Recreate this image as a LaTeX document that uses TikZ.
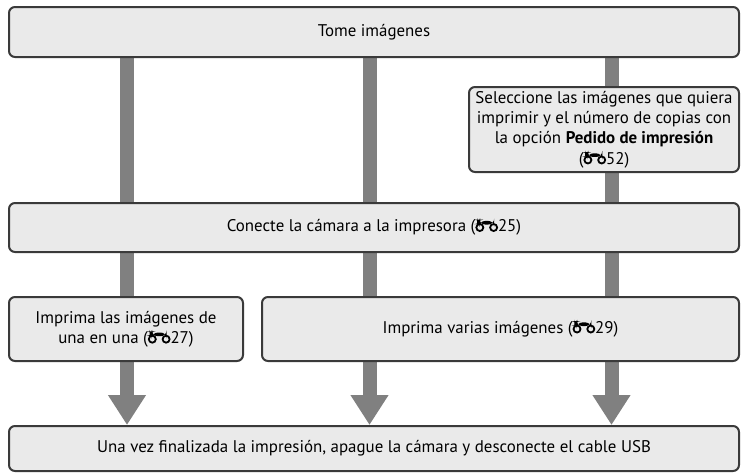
\documentclass[tikz,border=0pt]{standalone}
\usepackage{fontspec}
\setmainfont{PT Sans}
\usepackage{tikz}
\usetikzlibrary{arrows.meta,positioning,calc,backgrounds}
\definecolor{stepfill}{HTML}{EAEAEA}
\definecolor{stepink}{HTML}{3A3A3A}
\definecolor{flowgray}{HTML}{808080}
\newcommand{\binoc}{\tikz[baseline=0pt,x=1pt,y=1pt,line width=1.8pt]{%
    \draw (4.6,4.2) circle (3.5);
    \draw (18.4,4.2) circle (3.5);
    \fill (4,7.2) rectangle (19,10.8);
    \fill (1.9,7.6) rectangle (5,12);}}

\begin{document}
\begin{tikzpicture}[x=1pt,y=-1pt,font=\fontsize{16.9}{20.3}\selectfont,
    stepbox/.style={draw=stepink,line width=2pt,fill=stepfill,rounded corners=6pt,inner sep=0pt,align=center},
    bar/.style={draw=flowgray,line width=14pt},
    bararrow/.style={bar,-{Triangle[length=30pt,width=36pt]}}]
    \useasboundingbox (0,0) rectangle (741,474);
    \node[stepbox,minimum width=730pt,minimum height=50pt] (tome) at (374,32) {Tome imágenes};
    \node[stepbox,minimum width=270pt,minimum height=85pt] (sel) at (604,129.5) {Seleccione las imágenes que quiera\\imprimir y el número de copias con\\la opción \textbf{Pedido de impresión}\\(\binoc52)};
    \node[stepbox,minimum width=730pt,minimum height=49pt] (con) at (374,227.5) {Conecte la cámara a la impresora (\binoc25)};
    \node[stepbox,minimum width=234pt,minimum height=64pt] (una) at (126,329) {Imprima las imágenes de\\una en una (\binoc27)};
    \node[stepbox,minimum width=477pt,minimum height=64pt] (var) at (500.5,329) {Imprima varias imágenes (\binoc29)};
    \node[stepbox,minimum width=730pt,minimum height=45pt] (fin) at (374,448.5) {Una vez finalizada la impresión, apague la cámara y desconecte el cable USB};
    \coordinate (cL) at (127,0);
    \coordinate (cM) at (369.5,0);
    \coordinate (cR) at (611.5,0);
    \begin{scope}[on background layer]
      % left column
      \draw[bar] (tome.south -| cL) -- (con.north -| cL);
      \draw[bar] (con.south -| cL) -- (una.north -| cL);
      \draw[bararrow] (una.south -| cL) -- (fin.north -| cL);
      % middle column
      \draw[bar] (tome.south -| cM) -- (con.north -| cM);
      \draw[bar] (con.south -| cM) -- (var.north -| cM);
      \draw[bararrow] (var.south -| cM) -- (fin.north -| cM);
      % right column
      \draw[bar] (tome.south -| cR) -- (sel.north -| cR);
      \draw[bar] (sel.south -| cR) -- (con.north -| cR);
      \draw[bar] (con.south -| cR) -- (var.north -| cR);
      \draw[bararrow] (var.south -| cR) -- (fin.north -| cR);
    \end{scope}
\end{tikzpicture}
\end{document}
